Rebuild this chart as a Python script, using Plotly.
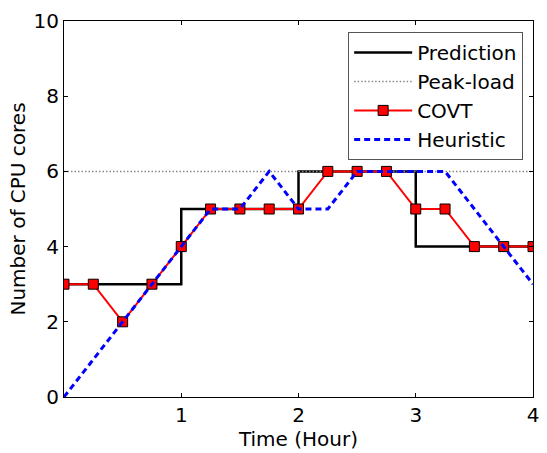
import plotly.graph_objects as go

# Data
pred_x = [0, 1, 1, 2, 2, 3, 3, 4]
pred_y = [3, 3, 5, 5, 6, 6, 4, 4]
peak_x = [0, 4]
peak_y = [6, 6]
covt_x = [0, 0.25, 0.5, 0.75, 1, 1.25, 1.5, 1.75, 2, 2.25, 2.5, 2.75, 3, 3.25, 3.5, 3.75, 4]
covt_y = [3, 3, 2, 3, 4, 5, 5, 5, 5, 6, 6, 6, 5, 5, 4, 4, 4]
heur_x = [0, 0.25, 0.5, 0.75, 1, 1.25, 1.5, 1.75, 2, 2.25, 2.5, 2.75, 3, 3.25, 3.5, 3.75, 4]
heur_y = [0, 1, 2, 3, 4, 5, 5, 6, 5, 5, 6, 6, 6, 6, 5, 4, 3]
x_ticks = [1, 2, 3, 4]
y_ticks = [0, 2, 4, 6, 8, 10]

FONT = "DejaVu Sans"

fig = go.Figure()
fig.add_trace(go.Scatter(x=pred_x, y=pred_y, mode="lines", name="Prediction",
                         line=dict(color="black", width=2.5)))
fig.add_trace(go.Scatter(x=peak_x, y=peak_y, mode="lines", name="Peak-load",
                         line=dict(color="#888888", width=1.5, dash="1.5px,2px")))
fig.add_trace(go.Scatter(x=covt_x, y=covt_y, mode="lines+markers", name="COVT",
                         line=dict(color="red", width=2),
                         marker=dict(symbol="square", size=10, color="red",
                                     line=dict(color="black", width=1))))
fig.add_trace(go.Scatter(x=heur_x, y=heur_y, mode="lines", name="Heuristic",
                         line=dict(color="blue", width=3, dash="6px,4px")))

axis_common = dict(showgrid=False, zeroline=False, showline=True, linecolor="black",
                   linewidth=1, mirror="ticks", ticks="inside", ticklen=4,
                   tickcolor="black", tickwidth=1,
                   tickfont=dict(family=FONT, size=20, color="black"))

fig.update_xaxes(range=[0, 4], tickvals=x_ticks, ticktext=[str(v) for v in x_ticks],
                 title=dict(text="Time (Hour)", font=dict(family=FONT, size=20, color="black"),
                            standoff=4),
                 **axis_common)
fig.update_yaxes(range=[0, 10], tickvals=y_ticks, ticktext=[str(v) for v in y_ticks],
                 title=dict(text="Number of CPU cores", font=dict(family=FONT, size=20, color="black"),
                            standoff=2),
                 **axis_common)

fig.update_layout(
    width=547, height=453,
    margin=dict(l=64, r=8, t=21, b=48),
    plot_bgcolor="white", paper_bgcolor="white",
    font=dict(family=FONT, size=20, color="black"),
    legend=dict(x=0.979, y=0.971, xanchor="right", yanchor="top",
                bgcolor="white", bordercolor="#555555", borderwidth=1,
                font=dict(family=FONT, size=20, color="black"),
                tracegroupgap=0, itemwidth=58),
)

fig.write_html("out.html")
